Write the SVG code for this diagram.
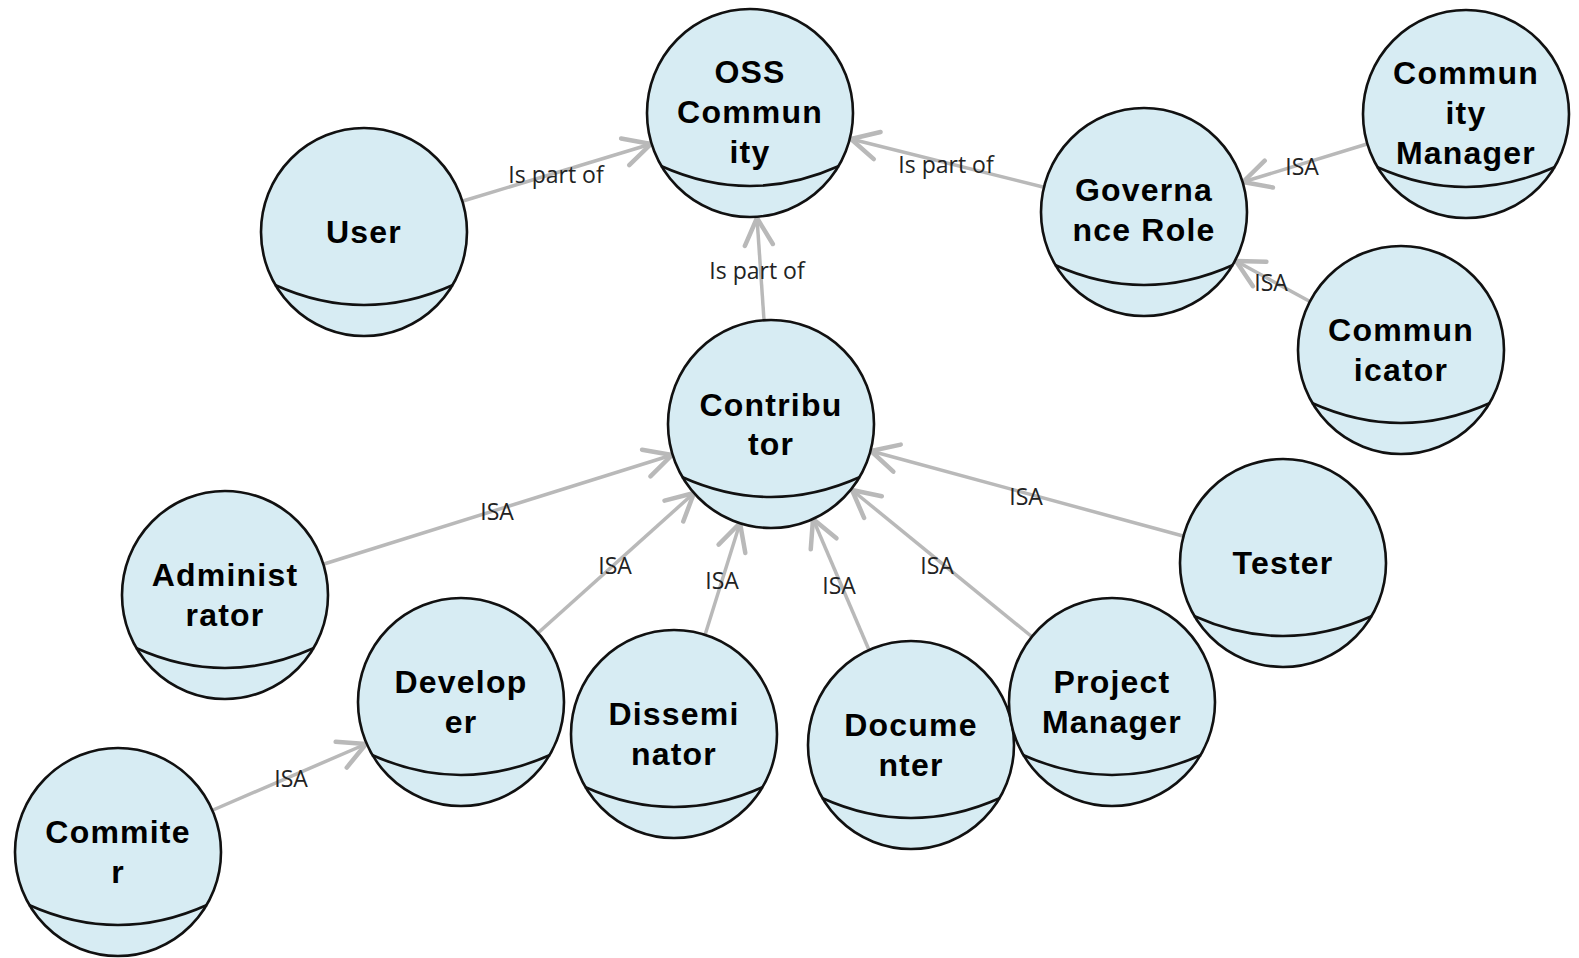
<svg xmlns="http://www.w3.org/2000/svg" width="1579" height="958" viewBox="0 0 1579 958">
<style>
.node ellipse{fill:#d7ecf3;stroke:#111;stroke-width:2.6}
.node path{fill:none;stroke:#111;stroke-width:2.6}
.node text{font-family:"Liberation Sans",Arial,sans-serif;font-weight:bold;font-size:32px;letter-spacing:1.2px;fill:#000;text-anchor:middle}
.edge line{stroke:#b9b9b9;stroke-width:3.5;marker-end:url(#arr)}
.lbl{font-family:"Open Sans","Noto Sans",sans-serif;font-size:23px;fill:#222;text-anchor:middle}
</style>
<defs>
<marker id="arr" markerUnits="userSpaceOnUse" markerWidth="40" markerHeight="40" viewBox="-32 -20 36 40" refX="0" refY="0" orient="auto">
<path d="M-27,-14 L0,0 L-27,14" fill="none" stroke="#b9b9b9" stroke-width="4.5" stroke-linecap="round" stroke-linejoin="round"/>
</marker>
</defs>
<rect width="1579" height="958" fill="#fff"/>
<g id="connectors">
<g class="edge"><line x1="463" y1="201" x2="651" y2="144"/><text class="lbl" x="556" y="183">Is part of</text></g>
<g class="edge"><line x1="764" y1="320" x2="757" y2="218"/><text class="lbl" x="757" y="279">Is part of</text></g>
<g class="edge"><line x1="1043" y1="187" x2="851" y2="139"/><text class="lbl" x="946" y="173">Is part of</text></g>
<g class="edge"><line x1="1367" y1="144" x2="1243" y2="182"/><text class="lbl" x="1302" y="175">ISA</text></g>
<g class="edge"><line x1="1309" y1="301" x2="1236" y2="261"/><text class="lbl" x="1271" y="291">ISA</text></g>
<g class="edge"><line x1="324" y1="564" x2="672" y2="455"/><text class="lbl" x="497" y="520">ISA</text></g>
<g class="edge"><line x1="538" y1="633" x2="694" y2="493"/><text class="lbl" x="615" y="574">ISA</text></g>
<g class="edge"><line x1="705" y1="635" x2="740" y2="523"/><text class="lbl" x="722" y="589">ISA</text></g>
<g class="edge"><line x1="869" y1="650" x2="813" y2="519"/><text class="lbl" x="839" y="594">ISA</text></g>
<g class="edge"><line x1="1031" y1="636" x2="852" y2="490"/><text class="lbl" x="937" y="574">ISA</text></g>
<g class="edge"><line x1="1183" y1="536" x2="871" y2="451"/><text class="lbl" x="1026" y="505">ISA</text></g>
<g class="edge"><line x1="213" y1="810" x2="366" y2="744"/><text class="lbl" x="291" y="787">ISA</text></g>
</g>
<g id="oss" class="node" transform="translate(750,113)"><ellipse rx="103" ry="104"/><path d="M-89,53 Q0,93 89,53"/><text y="-30">OSS</text><text y="10">Commun</text><text y="50">ity</text></g>
<g id="user" class="node" transform="translate(364,232)"><ellipse rx="103" ry="104"/><path d="M-89,53 Q0,93 89,53"/><text y="11">User</text></g>
<g id="governance" class="node" transform="translate(1144,212)"><ellipse rx="103" ry="104"/><path d="M-89,53 Q0,93 89,53"/><text y="-11">Governa</text><text y="29">nce Role</text></g>
<g id="community-manager" class="node" transform="translate(1466,114)"><ellipse rx="103" ry="104"/><path d="M-89,53 Q0,93 89,53"/><text y="-30">Commun</text><text y="10">ity</text><text y="50">Manager</text></g>
<g id="communicator" class="node" transform="translate(1401,350)"><ellipse rx="103" ry="104"/><path d="M-89,53 Q0,93 89,53"/><text y="-9">Commun</text><text y="31">icator</text></g>
<g id="contributor" class="node" transform="translate(771,424)"><ellipse rx="103" ry="104"/><path d="M-89,53 Q0,93 89,53"/><text y="-8">Contribu</text><text y="31">tor</text></g>
<g id="administrator" class="node" transform="translate(225,595)"><ellipse rx="103" ry="104"/><path d="M-89,53 Q0,93 89,53"/><text y="-9">Administ</text><text y="31">rator</text></g>
<g id="tester" class="node" transform="translate(1283,563)"><ellipse rx="103" ry="104"/><path d="M-89,53 Q0,93 89,53"/><text y="11">Tester</text></g>
<g id="developer" class="node" transform="translate(461,702)"><ellipse rx="103" ry="104"/><path d="M-89,53 Q0,93 89,53"/><text y="-9">Develop</text><text y="31">er</text></g>
<g id="disseminator" class="node" transform="translate(674,734)"><ellipse rx="103" ry="104"/><path d="M-89,53 Q0,93 89,53"/><text y="-9">Dissemi</text><text y="31">nator</text></g>
<g id="documenter" class="node" transform="translate(911,745)"><ellipse rx="103" ry="104"/><path d="M-89,53 Q0,93 89,53"/><text y="-9">Docume</text><text y="31">nter</text></g>
<g id="project-manager" class="node" transform="translate(1112,702)"><ellipse rx="103" ry="104"/><path d="M-89,53 Q0,93 89,53"/><text y="-9">Project</text><text y="31">Manager</text></g>
<g id="commiter" class="node" transform="translate(118,852)"><ellipse rx="103" ry="104"/><path d="M-89,53 Q0,93 89,53"/><text y="-9">Commite</text><text y="31">r</text></g>
</svg>
